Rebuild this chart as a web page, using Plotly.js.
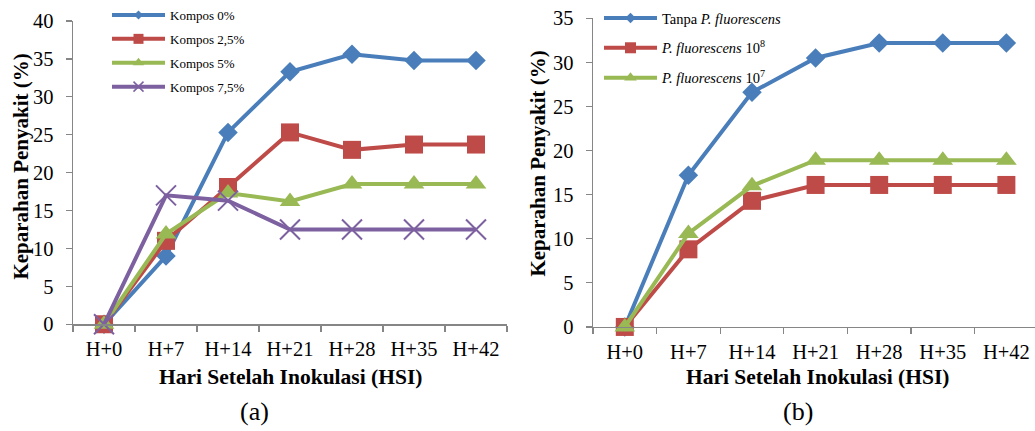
<!DOCTYPE html>
<html>
<head>
<meta charset="utf-8">
<script src="https://cdn.plot.ly/plotly-3.0.1.min.js"></script>
<style>html,body{margin:0;padding:0;background:#fff;}#chart{width:1035px;height:431px;}</style>
</head>
<body>
<div id="chart"></div>
<script>
const categories = ["H+0", "H+7", "H+14", "H+21", "H+28", "H+35", "H+42"];

// Panel (a)
const kompos0   = [0, 9.0, 25.3, 33.3, 35.6, 34.8, 34.8];
const kompos25  = [0, 11.0, 18.1, 25.3, 23.0, 23.7, 23.7];
const kompos5   = [0, 11.9, 17.3, 16.2, 18.5, 18.5, 18.5];
const kompos75  = [0, 17.0, 16.3, 12.5, 12.5, 12.5, 12.5];

// Panel (b)
const tanpaPF   = [0, 17.2, 26.6, 30.5, 32.2, 32.2, 32.2];
const pf108     = [0, 8.8, 14.3, 16.1, 16.1, 16.1, 16.1];
const pf107     = [0, 10.6, 16.0, 18.9, 18.9, 18.9, 18.9];

const namesA = ["Kompos 0%", "Kompos 2,5%", "Kompos 5%", "Kompos 7,5%"];
const namesB = ["Tanpa <i>P. fluorescens</i>", "<i>P. fluorescens</i> 10<sup>8</sup>", "<i>P. fluorescens</i> 10<sup>7</sup>"];

const yTicksA = [0, 5, 10, 15, 20, 25, 30, 35, 40];
const yTicksB = [0, 5, 10, 15, 20, 25, 30, 35];

const BLUE = "#4A7EBB", RED = "#BE4B48", GREEN = "#98B954", PURPLE = "#7D60A0";
const AXC = "#868686";
const SERIF = "Liberation Serif, Times New Roman, serif";

function tr(name, y, color, symbol, size, xa, ya, extraMarker) {
  const m = Object.assign({symbol: symbol, size: size, color: color}, extraMarker || {});
  return {
    type: "scatter", mode: "lines+markers", name: name, showlegend: false,
    x: categories, y: y, xaxis: xa, yaxis: ya,
    line: {color: color, width: 4}, marker: m, cliponaxis: false
  };
}
// legend-only entries (smaller markers, as in the reference legend)
function lg(name, color, symbol, size, xa, ya, legend, group, extraMarker) {
  const m = Object.assign({symbol: symbol, size: size, color: color}, extraMarker || {});
  return {
    type: "scatter", mode: "lines+markers", name: name, showlegend: true,
    x: [null], y: [null], xaxis: xa, yaxis: ya, legend: legend, legendgroup: group,
    line: {color: color, width: 4}, marker: m
  };
}
const xLine = {line: {color: PURPLE, width: 2}};
const xLineL = {line: {color: PURPLE, width: 1.5}};

const data = [
  tr(namesA[0], kompos0, BLUE, "diamond", 15, "x", "y"),
  tr(namesA[1], kompos25, RED, "square", 18, "x", "y"),
  tr(namesA[2], kompos5, GREEN, "triangle-up", 18, "x", "y"),
  tr(namesA[3], kompos75, PURPLE, "x-thin", 20, "x", "y", xLine),
  tr(namesB[0], tanpaPF, BLUE, "diamond", 15, "x2", "y2"),
  tr(namesB[1], pf108, RED, "square", 18, "x2", "y2"),
  tr(namesB[2], pf107, GREEN, "triangle-up", 18, "x2", "y2"),
  lg(namesA[0], BLUE, "diamond", 7, "x", "y", "legend", "a1"),
  lg(namesA[1], RED, "square", 10, "x", "y", "legend", "a2"),
  lg(namesA[2], GREEN, "triangle-up", 10, "x", "y", "legend", "a3"),
  lg(namesA[3], PURPLE, "x-thin", 10, "x", "y", "legend", "a4", xLineL),
  lg(namesB[0], BLUE, "diamond", 8, "x2", "y2", "legend2", "b1"),
  lg(namesB[1], RED, "square", 11, "x2", "y2", "legend2", "b2"),
  lg(namesB[2], GREEN, "triangle-up", 11, "x2", "y2", "legend2", "b3")
];

const W = 1035, H = 431;
function px(x) { return x / W; }
function py(y) { return 1 - y / H; }

const xBase = {
  type: "category", categoryorder: "array", categoryarray: categories,
  showline: true, linecolor: AXC, linewidth: 1.3,
  ticks: "outside", tickson: "boundaries", ticklen: 6, tickcolor: AXC, tickwidth: 1.3,
  showgrid: false, zeroline: false, fixedrange: true,
  tickfont: {family: SERIF, size: 20.5, color: "#000"}, ticklabelstandoff: 6
};
const yBase = {
  showline: true, linecolor: AXC, linewidth: 1.3,
  ticks: "outside", ticklen: 6, tickcolor: AXC, tickwidth: 1.3,
  showgrid: false, zeroline: false, fixedrange: true,
  tickfont: {family: SERIF, size: 20.5, color: "#000"}, ticklabelstandoff: 8
};

function ann(text, x, y, size, angle) {
  return {text: text, xref: "paper", yref: "paper", x: px(x), y: py(y),
    xanchor: "center", yanchor: "middle", textangle: angle || 0, showarrow: false,
    font: {family: SERIF, size: size, color: "#000"}};
}

const layout = {
  width: W, height: H,
  margin: {l: 0, r: 0, t: 0, b: 0},
  paper_bgcolor: "#fff", plot_bgcolor: "rgba(0,0,0,0)",
  showlegend: true,
  xaxis: Object.assign({}, xBase, {domain: [px(73), px(507)], range: [-0.5, 6.5], anchor: "y"}),
  yaxis: Object.assign({}, yBase, {domain: [py(324), py(20)], range: [0, 40], tickvals: yTicksA, anchor: "x"}),
  xaxis2: Object.assign({}, xBase, {domain: [px(593), 1], range: [-0.5, 6.45], anchor: "y2"}),
  yaxis2: Object.assign({}, yBase, {domain: [py(326.7), py(17.3)], range: [0, 35], tickvals: yTicksB, anchor: "x2"}),
  legend: {
    x: px(107), y: py(-1), xanchor: "left", yanchor: "top",
    bgcolor: "rgba(0,0,0,0)", font: {family: SERIF, size: 13, color: "#000"},
    itemwidth: 53, tracegroupgap: 4, traceorder: "grouped"
  },
  legend2: {
    x: px(599), y: py(2), xanchor: "left", yanchor: "top",
    bgcolor: "rgba(0,0,0,0)", font: {family: SERIF, size: 14.5, color: "#000"},
    itemwidth: 53, tracegroupgap: 8, traceorder: "grouped"
  },
  annotations: [
    ann("<b>Keparahan Penyakit (%)</b>", 21, 166, 21, -90),
    ann("<b>Keparahan Penyakit (%)</b>", 538, 163, 21, -90),
    ann("<b>Hari Setelah Inokulasi (HSI)</b>", 290, 377, 21.5),
    ann("<b>Hari Setelah Inokulasi (HSI)</b>", 817, 377, 21.5),
    ann("(a)", 254, 411, 26),
    ann("(b)", 798, 411, 26)
  ]
};

Plotly.newPlot("chart", data, layout, {displayModeBar: false, staticPlot: true});
</script>
</body>
</html>
